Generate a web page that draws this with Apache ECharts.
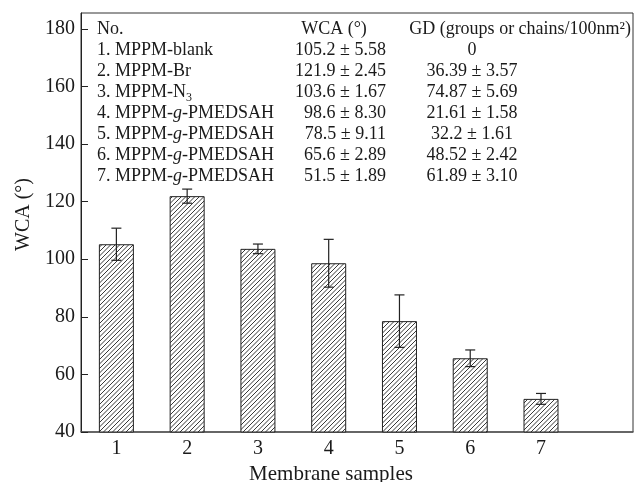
<!DOCTYPE html>
<html>
<head>
<meta charset="utf-8">
<script src="https://cdn.jsdelivr.net/npm/echarts@6/dist/echarts.min.js"></script>
<style>
  html, body { margin: 0; padding: 0; background: #fff; }
  #chart { width: 634px; height: 482px; }
</style>
</head>
<body>
<div id="chart"></div>
<script>
// ── data ──
const samples = [1, 2, 3, 4, 5, 6, 7]
const wca = [105.2, 121.9, 103.6, 98.6, 78.5, 65.6, 51.5]
const wcaErr = [5.58, 2.45, 1.67, 8.30, 9.11, 2.89, 1.89]
const sampleNames = [
  '1. MPPM-blank',
  '2. MPPM-Br',
  '3. MPPM-N{sub|3}',
  '4. MPPM-{i|g}-PMEDSAH',
  '5. MPPM-{i|g}-PMEDSAH',
  '6. MPPM-{i|g}-PMEDSAH',
  '7. MPPM-{i|g}-PMEDSAH',
]
const gdText = ['0', '36.39 ± 3.57', '74.87 ± 5.69', '21.61 ± 1.58', '32.2 ± 1.61', '48.52 ± 2.42', '61.89 ± 3.10']
const yTicks = [40, 60, 80, 100, 120, 140, 160, 180]

const FONT = '"Liberation Serif", "DejaVu Serif", serif'
const INK = '#1a1a1a'

// ── hatch pattern ──
function makeHatch() {
  const c = document.createElement('canvas')
  c.width = 9
  c.height = 9
  const g = c.getContext('2d')
  g.fillStyle = '#fff'
  g.fillRect(0, 0, 9, 9)
  g.strokeStyle = '#222'
  g.lineWidth = 0.9
  for (const off of [-9, -4.5, 0, 4.5, 9]) {
    g.beginPath()
    g.moveTo(off, 9)
    g.lineTo(off + 9, 0)
    g.stroke()
  }
  return c
}

// ── table text (graphic) ──
const rich = {
  sub: { fontSize: 12, fontFamily: FONT, fill: INK, color: INK, verticalAlign: 'bottom', lineHeight: 10 },
  i: { fontSize: 18, fontFamily: FONT, fontStyle: 'italic', color: INK, lineHeight: 24 },
}
const rowY = (r) => 29 + 21 * r
const tableItems = []
function txt(text, x, y, align) {
  tableItems.push({
    type: 'text', silent: true,
    style: {
      text, x, y, textAlign: align, textVerticalAlign: 'middle',
      fontSize: 18, lineHeight: 24, fontFamily: FONT, fill: INK, rich,
    },
  })
}
txt('No.', 97, rowY(0), 'left')
txt('WCA (°)', 334, rowY(0), 'center')
txt('GD (groups or chains/100nm²)', 631, rowY(0), 'right')
sampleNames.forEach((n, i) => {
  txt(n, 97, rowY(i + 1), 'left')
  txt(wca[i].toFixed(1) + ' ± ' + wcaErr[i].toFixed(2), 386, rowY(i + 1), 'right')
  txt(gdText[i], 472, rowY(i + 1), 'center')
})

const chart = echarts.init(document.getElementById('chart'))
chart.setOption({
  animation: false,
  backgroundColor: '#fff',
  grid: {
    left: 81, right: 1, top: 13, bottom: 50, outerBoundsMode: 'none',
    show: true, borderColor: '#333', borderWidth: 1,
  },
  xAxis: {
    type: 'value', min: 0.5, max: 8.3,
    name: 'Membrane samples', nameLocation: 'middle', nameGap: 29,
    nameTextStyle: { fontFamily: FONT, fontSize: 21, color: INK, padding: [0, 52, 0, 0] },
    axisLine: { lineStyle: { color: '#555', width: 1.5 } },
    axisTick: { inside: true, length: 6, customValues: samples, lineStyle: { color: '#333' } },
    axisLabel: { customValues: samples, fontFamily: FONT, fontSize: 20, color: INK, margin: 7 },
    splitLine: { show: false },
  },
  yAxis: {
    type: 'value', min: 40, max: 185.5,
    name: 'WCA (°)', nameLocation: 'middle', nameGap: 42,
    nameTextStyle: { fontFamily: FONT, fontSize: 20, color: INK, padding: [0, 0, 0, 16] },
    axisLine: { show: true, lineStyle: { color: '#222' } },
    axisTick: { inside: true, length: 7, customValues: yTicks, lineStyle: { color: '#222' } },
    axisLabel: { customValues: yTicks, fontFamily: FONT, fontSize: 20, color: INK, margin: 6 },
    splitLine: { show: false },
  },
  series: [
    {
      type: 'bar',
      barWidth: 35,
      clip: true,
      data: samples.map((s, i) => [s, wca[i]]),
      itemStyle: { color: { image: makeHatch(), repeat: 'repeat' }, borderColor: '#222', borderWidth: 1 },
      z: 2,
    },
    {
      type: 'custom',
      z: 5,
      data: samples.map((s, i) => [s, wca[i], wcaErr[i]]),
      renderItem(params, api) {
        const x = api.value(0), y = api.value(1), e = api.value(2)
        const hi = api.coord([x, y + e])
        const lo = api.coord([x, y - e])
        const cap = 5
        const st = { stroke: '#222', lineWidth: 1.2 }
        return {
          type: 'group',
          children: [
            { type: 'line', shape: { x1: hi[0], y1: hi[1], x2: lo[0], y2: lo[1] }, style: st },
            { type: 'line', shape: { x1: hi[0] - cap, y1: hi[1], x2: hi[0] + cap, y2: hi[1] }, style: st },
            { type: 'line', shape: { x1: lo[0] - cap, y1: lo[1], x2: lo[0] + cap, y2: lo[1] }, style: st },
          ],
        }
      },
    },
  ],
  graphic: tableItems,
})
</script>
</body>
</html>
